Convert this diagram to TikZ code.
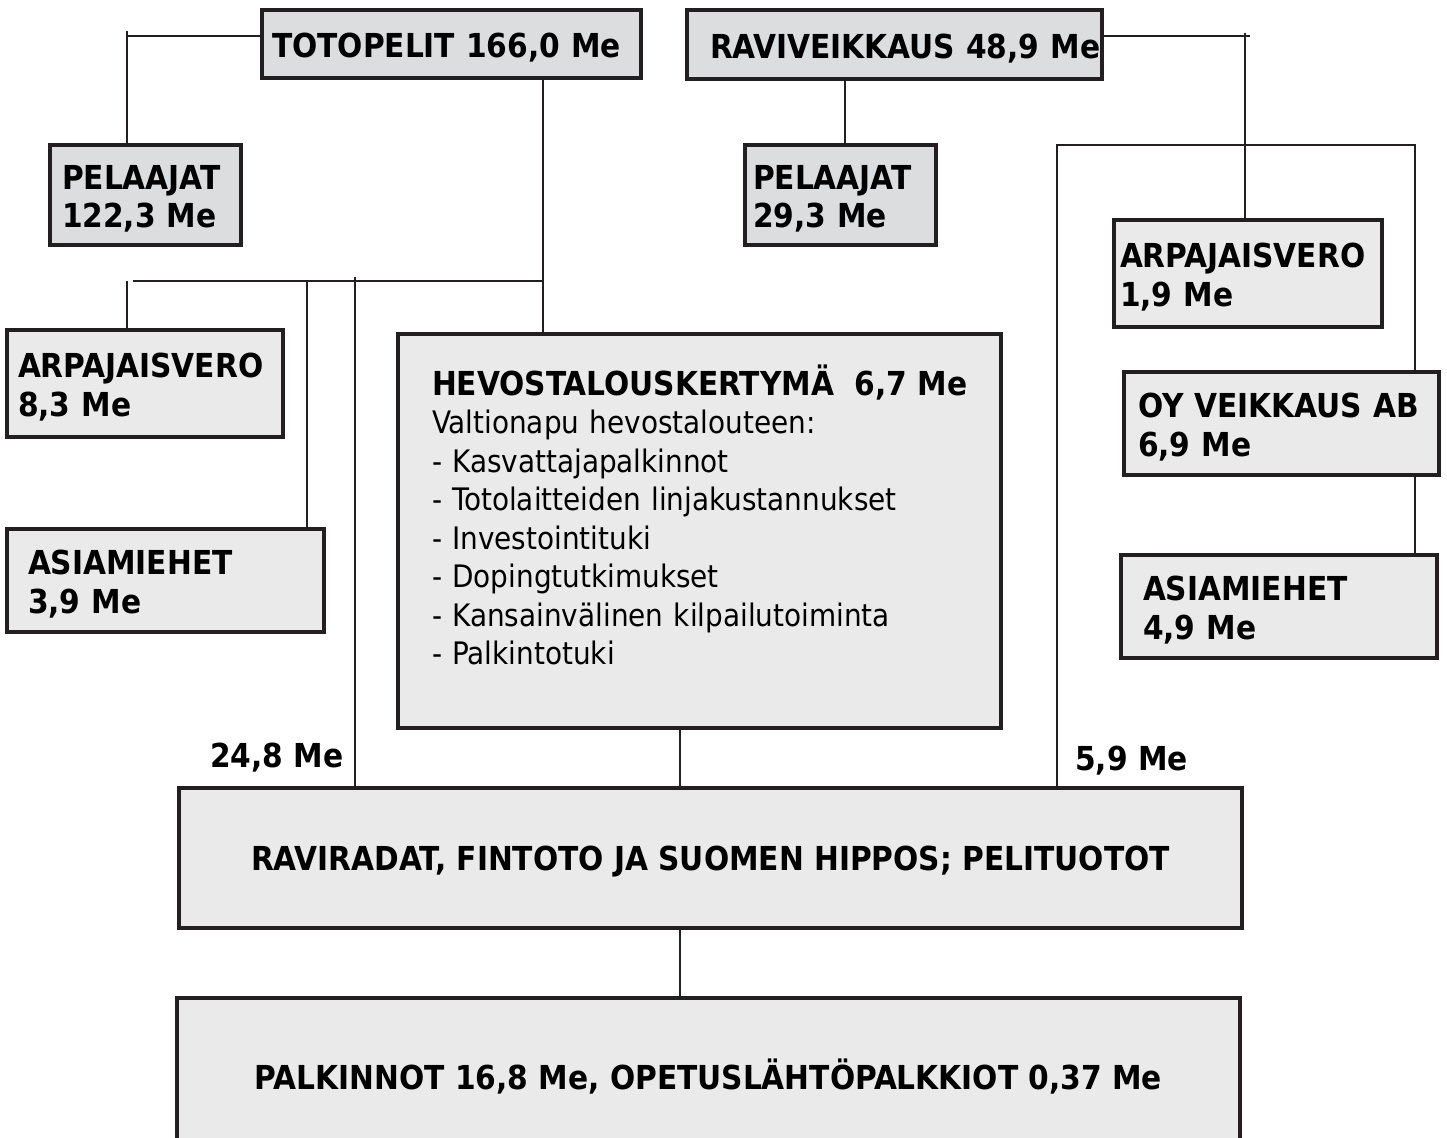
\documentclass[tikz,border=0pt]{standalone}
\usepackage{fontspec}
\setmainfont{DejaVu Sans Condensed}
\usetikzlibrary{positioning}

\definecolor{linegray}{RGB}{35,31,32}
\definecolor{darkfill}{RGB}{220,221,223}
\definecolor{lightfill}{RGB}{233,234,233}

\newcommand{\upstrut}{\rule{0pt}{32pt}}

\tikzset{
  box/.style={draw=linegray, line width=3.2pt, fill=lightfill, anchor=north west,
    align=left, inner ysep=0pt, outer sep=0pt,
    font=\fontsize{33}{38.5}\selectfont\bfseries},
  topbox/.style={box, fill=darkfill},
  wire/.style={draw=linegray, line width=2.8pt},
  lbl/.style={inner sep=0pt, anchor=base west, font=\fontsize{33}{38.5}\selectfont\bfseries},
}

\begin{document}
\begin{tikzpicture}[x=1pt, y=-1pt]
      \useasboundingbox (0,0) rectangle (1447,1137);
      \begin{scope}[every node/.style={box}]
        \node[topbox, inner xsep=10pt, text width=359pt, minimum height=68pt] (toto) at (262,10) {\mbox{\upstrut TOTOPELIT 166,0 Me}};
        \node[topbox, inner xsep=23pt, text width=369pt, minimum height=69pt] (ravi) at (687,10) {\mbox{\upstrut RAVIVEIKKAUS 48,9 Me}};
        \node[topbox, inner xsep=12pt, text width=167pt, minimum height=100pt] (pelA) at (50,145) {\upstrut PELAAJAT\\122,3 Me};
        \node[topbox, inner xsep=8pt, text width=175pt, minimum height=100pt] (pelB) at (745,145) {\upstrut PELAAJAT\\29,3 Me};
        \node[inner xsep=11pt, text width=254pt, minimum height=107pt] (arpA) at (7,330) {\upstrut ARPAJAISVERO\\8,3 Me};
        \node[inner xsep=21pt, text width=275pt, minimum height=103pt] (asiA) at (7,529) {\upstrut ASIAMIEHET\\3,9 Me};
        \node[inner xsep=6pt, text width=256pt, minimum height=107pt] (arpB) at (1114,220) {\upstrut ARPAJAISVERO\\1,9 Me};
        \node[inner xsep=14pt, text width=287pt, minimum height=103pt] (oy) at (1124,372) {\upstrut OY VEIKKAUS AB\\6,9 Me};
        \node[inner xsep=22pt, text width=272pt, minimum height=103pt] (asiB) at (1121,555) {\upstrut ASIAMIEHET\\4,9 Me};
        \node[inner xsep=34pt, text width=535pt, minimum height=394pt,
              font=\fontsize{31}{38.5}\selectfont] (hevo) at (398,334)
          {\mbox{\fontsize{33}{38.5}\selectfont\bfseries HEVOSTALOUSKERTYMÄ\ \ 6,7 Me}\\
           Valtionapu hevostalouteen:\\
           - Kasvattajapalkinnot\\
           - Totolaitteiden linjakustannukset\\
           - Investointituki\\
           - Dopingtutkimukset\\
           - Kansainvälinen kilpailutoiminta\\
           - Palkintotuki\rule[-33pt]{0pt}{0pt}};
        \node[align=center, minimum width=1063pt, minimum height=140pt] (rata) at (179,788) {\upstrut RAVIRADAT, FINTOTO JA SUOMEN HIPPOS; PELITUOTOT};
        \node[align=center, minimum width=1063pt, minimum height=156pt] (palk) at (177,998) {\upstrut PALKINNOT 16,8 Me, OPETUSLÄHTÖPALKKIOT 0,37 Me};
      \end{scope}
      \node[lbl] (l248) at (210,767) {24,8 Me};
      \node[lbl] (l59) at (1075,770) {5,9 Me};
      % junctions
      \coordinate (tl) at (127,36);
      \coordinate (tj) at (543,281);
      \coordinate (tlb) at (127,281);
      \coordinate (tas) at (307,281);
      \coordinate (t248) at (355,277);
      \coordinate (hc) at (680,760);
      \coordinate (rc) at (845,100);
      \coordinate (rr) at (1245,36);
      \coordinate (fl) at (1057,145);
      \coordinate (fr) at (1415,145);
      \begin{scope}[every path/.style={wire}]
        \draw (toto.west |- tl) -- (tl);
        \draw ([yshift=5pt]tl) -- (tl |- pelA.north);
        \draw (tj |- toto.south) -- (tj |- hevo.north);
        \draw ([xshift=6pt]tlb) -- (tj);
        \draw (tlb) -- (tlb |- arpA.north);
        \draw (tas) -- (tas |- asiA.north);
        \draw (t248) -- (t248 |- rata.north);
        \draw (hc |- hevo.south) -- (hc |- rata.north);
        \draw (hc |- rata.south) -- (hc |- palk.north);
        \draw (rc |- ravi.south) -- (rc |- pelB.north);
        \draw (ravi.east |- rr) -- ([xshift=5pt]rr);
        \draw ([yshift=3pt]rr) -- (rr |- arpB.north);
        \draw (fl |- rata.north) -- (fl) -- (fr) -- (fr |- oy.north);
        \draw (fr |- oy.south) -- (fr |- asiB.north);
      \end{scope}
    \end{tikzpicture}
\end{document}
